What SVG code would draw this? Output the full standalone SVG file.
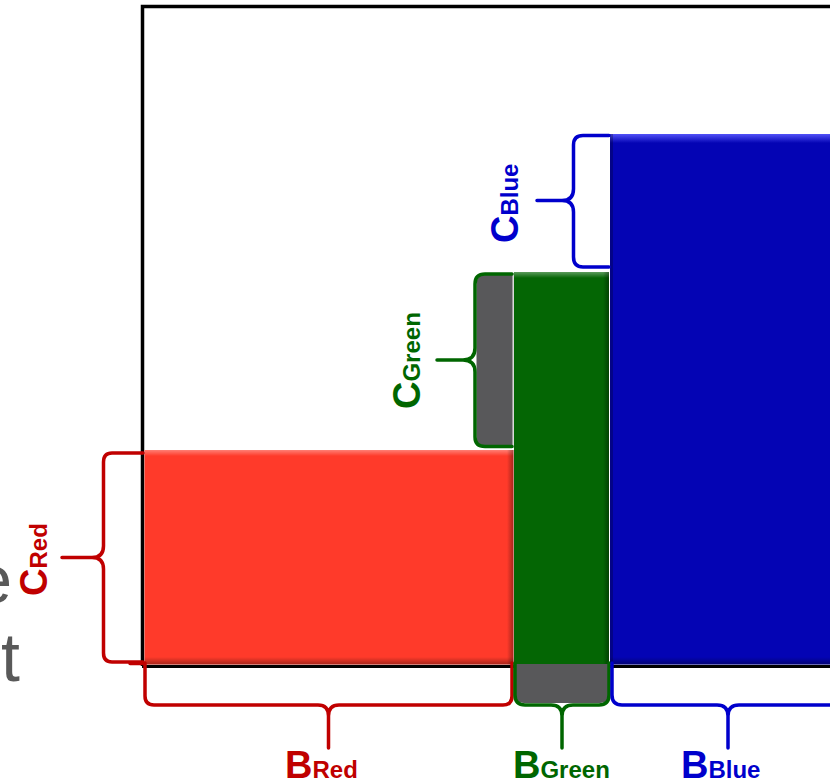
<svg xmlns="http://www.w3.org/2000/svg" width="830" height="784" viewBox="0 0 830 784">
<style>
.brace{fill:none;stroke-width:3.5;stroke-linecap:round;stroke-linejoin:round}
.big{font-family:"Liberation Sans",Arial,sans-serif;font-weight:bold;font-size:38px}
.sub{font-size:24px}
.red{fill:#C00000}.grn{fill:#006600}.blu{fill:#0000CC}
.frame{fill:none;stroke:#000;stroke-width:3.5}
.gray{font-family:"Liberation Sans",Arial,sans-serif;font-size:68px;fill:#595959}
</style>
<defs>
<linearGradient id="topHi" x1="0" y1="0" x2="0" y2="1">
<stop offset="0" stop-color="#fff" stop-opacity="0.35"/>
<stop offset="1" stop-color="#fff" stop-opacity="0"/>
</linearGradient>
<linearGradient id="blueHi" x1="0" y1="0" x2="0" y2="1">
<stop offset="0" stop-color="#5a5aff" stop-opacity="0.9"/>
<stop offset="1" stop-color="#5a5aff" stop-opacity="0"/>
</linearGradient>
<linearGradient id="botSh" x1="0" y1="0" x2="0" y2="1">
<stop offset="0" stop-color="#000" stop-opacity="0"/>
<stop offset="1" stop-color="#000" stop-opacity="0.35"/>
</linearGradient>
<linearGradient id="rightSh" x1="0" y1="0" x2="1" y2="0">
<stop offset="0" stop-color="#000" stop-opacity="0"/>
<stop offset="1" stop-color="#000" stop-opacity="0.35"/>
</linearGradient>
</defs>
<rect width="830" height="784" fill="#fff"/>

<g id="background-text">
<text class="gray" x="12" y="603" text-anchor="end">e</text>
<text class="gray" x="20" y="681" text-anchor="end">t</text>
</g>

<g id="frame">
<path class="frame" d="M142.5,666 L142.5,6.5 L832,6.5"/>
<line x1="142" y1="666.5" x2="832" y2="666.5" stroke="#000" stroke-width="3"/>
</g>

<g id="bar-red">
<rect x="144.5" y="450" width="369" height="214.5" fill="#FF3A2A"/>
<rect x="144.5" y="450" width="369" height="6" fill="url(#topHi)"/>
<rect x="144.5" y="657" width="369" height="7.5" fill="url(#botSh)"/>
<rect x="507" y="450" width="6.5" height="214.5" fill="url(#rightSh)"/>
</g>

<g id="gray-c-green">
<path d="M513,275 L485,275 Q476.5,275 476.5,284 L476.5,437 Q476.5,446 485,446 L513,446 Z" fill="#58585A"/>
<line x1="513.2" y1="273" x2="513.2" y2="448" stroke="#d8d8d8" stroke-width="1.5"/>
</g>

<g id="bar-green">
<rect x="514" y="272" width="95" height="392" fill="#046604"/>
<rect x="514" y="272" width="95" height="6" fill="url(#topHi)"/>
<rect x="603" y="272" width="6" height="392" fill="url(#rightSh)"/>
</g>

<g id="bar-blue">
<rect x="610" y="134" width="222" height="530.5" fill="#0404B4"/>
<rect x="610" y="134" width="222" height="9" fill="url(#blueHi)"/>
<rect x="610" y="657" width="222" height="7.5" fill="url(#botSh)"/>
<rect x="610" y="134" width="3" height="530" fill="#000" opacity="0.25"/>
</g>

<g id="gray-b-green">
<path d="M515.5,664 L515.5,695 Q515.5,703 524,703 L600,703 Q608.5,703 608.5,695 L608.5,664 Z" fill="#58585A"/>
</g>

<g id="connectors">
<path class="brace" stroke="#C00000" d="M143,453 L112,453 Q103.5,453 103.5,462 L103.5,546 Q103.5,557.5 92,557.5 L62,557.5 M92,557.5 Q103.5,557.5 103.5,569 L103.5,653 Q103.5,662 112,662 L143,662"/>
<path class="brace" stroke="#C00000" d="M130,663.5 L143,663.5 M145,663 L145,696 Q145,705 154,705 L318,705 Q328.5,705 328.5,716 L328.5,748 M328.5,716 Q328.5,705 339,705 L503,705 Q512,705 512,696 L512,663"/>
<path class="brace" stroke="#006600" d="M512,274 L485,274 Q475,274 475,284 L475,348 Q475,360 463,360 L437,360 M463,360 Q475,360 475,372 L475,437 Q475,446.5 485,446.5 L512,446.5"/>
<path class="brace" stroke="#006600" d="M515,663 L515,695 Q515,705 525,705 L551,705 Q562,705 562,716 L562,748 M562,716 Q562,705 573,705 L599,705 Q609,705 609,695 L609,663"/>
<path class="brace" stroke="#0000CC" d="M609,135.5 L583,135.5 Q573.5,135.5 573.5,145 L573.5,189 Q573.5,200.5 562,200.5 L537,200.5 M562,200.5 Q573.5,200.5 573.5,212 L573.5,257 Q573.5,267 583,267 L609,267"/>
<path class="brace" stroke="#0000CC" d="M612,663 L612,695 Q612,705 622,705 L717,705 Q728,705 728,716 L728,748 M728,716 Q728,705 739,705 L834,705"/>
</g>

<g id="label-c-red">
<text class="big red" transform="translate(47,596) rotate(-90)">C<tspan class="sub">Red</tspan></text>
</g>
<g id="label-c-green">
<text class="big grn" transform="translate(420,409) rotate(-90)">C<tspan class="sub">Green</tspan></text>
</g>
<g id="label-c-blue">
<text class="big blu" transform="translate(518,243) rotate(-90)">C<tspan class="sub">Blue</tspan></text>
</g>
<g id="label-b-red">
<text class="big red" x="285" y="778">B<tspan class="sub">Red</tspan></text>
</g>
<g id="label-b-green">
<text class="big grn" x="513" y="778">B<tspan class="sub">Green</tspan></text>
</g>
<g id="label-b-blue">
<text class="big blu" x="681" y="778">B<tspan class="sub">Blue</tspan></text>
</g>
</svg>
